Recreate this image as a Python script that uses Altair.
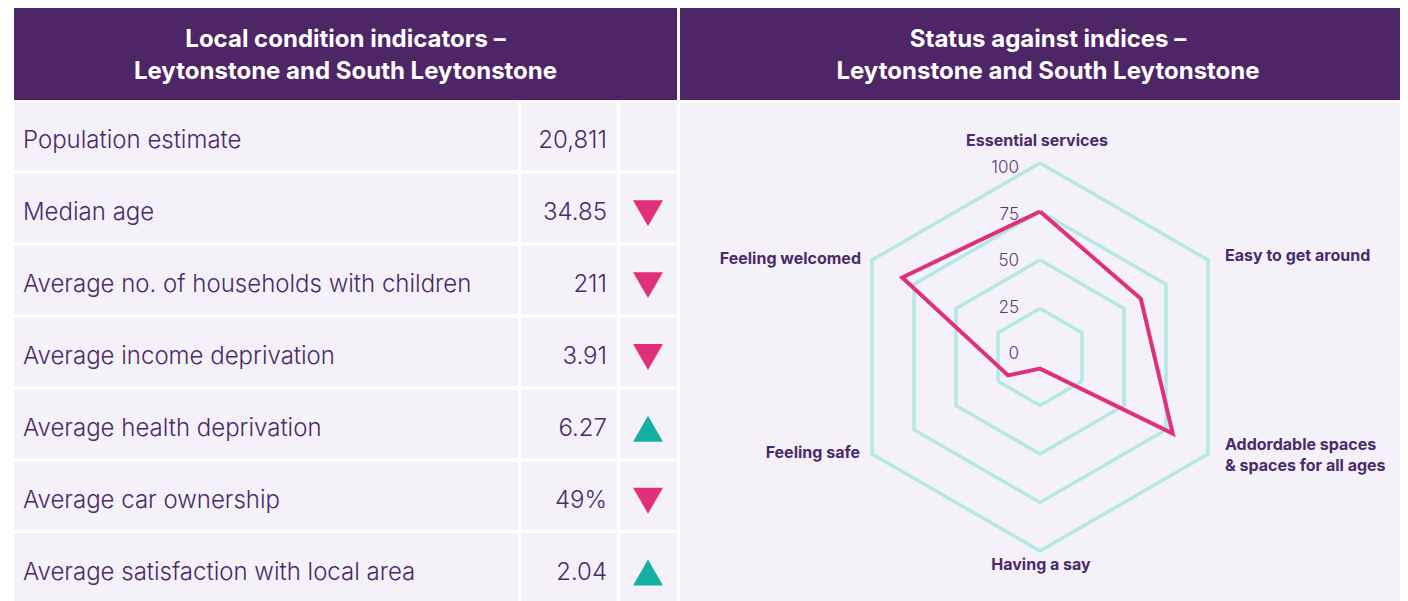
import math
import altair as alt
import pandas as pd

# ---------------- data ----------------
row_labels = [
    "Population estimate",
    "Median age",
    "Average no. of households with children",
    "Average income deprivation",
    "Average health deprivation",
    "Average car ownership",
    "Average satisfaction with local area",
]
row_values = ["20,811", "34.85", "211", "3.91", "6.27", "49%", "2.04"]
row_trend = ["none", "down", "down", "down", "up", "down", "up"]

left_title = "Local condition indicators –\nLeytonstone and South Leytonstone"
right_title = "Status against indices –\nLeytonstone and South Leytonstone"

radar_axes = [
    "Essential services",
    "Easy to get around",
    "Addordable spaces\n& spaces for all ages",
    "Having a say",
    "Feeling safe",
    "Feeling welcomed",
]
radar_scores = [75, 60, 79, 6, 19, 82]
ring_levels = [25, 50, 75, 100]
tick_values = [0, 25, 50, 75, 100]

# ---------------- layout (page pixel coordinates) ----------------
W, H = 1392, 593
X0, Y0 = 8, 8
PURPLE = "#4e2566"
TEXT = "#4a2a6a"
CELL = "#f4f2f8"
TEAL_GRID = "#b4e8e3"
PINK = "#e0307c"
TEAL = "#13b0a2"
FONT = "Inter"

left_x0, left_x1 = 14, 677
right_x0, right_x1 = 680, 1420
head_y0, head_y1 = 0, 100
table_top, row_pitch, row_gap = 102, 71.85, 3
col_edges = [(14, 518), (521, 617), (620, 677)]

cx, cy, R = 1040, 357, 194

X = lambda f="x": alt.X(f"{f}:Q", scale=alt.Scale(domain=[X0, X0 + W], nice=False, zero=False), axis=None)
Y = lambda f="y": alt.Y(f"{f}:Q", scale=alt.Scale(domain=[Y0 + H, Y0], nice=False, zero=False), axis=None)

# backgrounds
bg_df = pd.DataFrame([
    dict(x=left_x0, x2=left_x1, y=head_y0, y2=head_y1, c=PURPLE),
    dict(x=right_x0, x2=right_x1, y=head_y0, y2=head_y1, c=PURPLE),
    dict(x=right_x0, x2=right_x1, y=103, y2=620, c=CELL),
])
for i in range(len(row_labels)):
    top = table_top + i * row_pitch
    for (a, b) in col_edges:
        bg_df.loc[len(bg_df)] = dict(x=a, x2=b, y=top, y2=top + row_pitch - row_gap, c=CELL)

bg = alt.Chart(bg_df).mark_rect().encode(
    x=X(), x2="x2:Q", y=Y(), y2="y2:Q",
    color=alt.Color("c:N", scale=None),
)

# header titles (first line position; second line follows lineHeight)
head_df = pd.DataFrame([
    dict(x=(left_x0 + left_x1) / 2, y=40, t=left_title),
    dict(x=1048, y=40, t=right_title),
])
heads = alt.Chart(head_df).mark_text(
    font=FONT, fontSize=24, fontWeight="bold", color="white",
    lineBreak="\n", lineHeight=32, align="center", baseline="middle",
).encode(x=X(), y=Y(), text="t:N")

# table rows
rows_df = pd.DataFrame(dict(label=row_labels, value=row_values, trend=row_trend))
rows_df["y"] = [table_top + i * row_pitch + (row_pitch - row_gap) / 2 + 5 for i in range(len(row_labels))]
rows_df["xl"] = 23
rows_df["xv"] = 607
rows_df["xt"] = 648

labels = alt.Chart(rows_df).mark_text(
    font=FONT, fontSize=24, fontWeight=300, color=TEXT, align="left", baseline="middle",
).encode(x=X("xl"), y=Y(), text="label:N")

values = alt.Chart(rows_df).mark_text(
    font=FONT, fontSize=24, fontWeight=300, color=TEXT, align="right", baseline="middle",
).encode(x=X("xv"), y=Y(), text="value:N")

tri = alt.Chart(rows_df).transform_filter("datum.trend != 'none'").mark_point(
    filled=True, size=900, opacity=1, strokeWidth=0,
).encode(
    x=X("xt"), y=Y(),
    shape=alt.Shape("trend:N", scale=alt.Scale(domain=["up", "down"], range=["triangle-up", "triangle-down"]), legend=None),
    color=alt.Color("trend:N", scale=alt.Scale(domain=["up", "down"], range=[TEAL, PINK]), legend=None),
)

# radar
def pt(val, k):
    a = math.radians(60 * k)
    r = val / 100 * R
    return cx + r * math.sin(a), cy - r * math.cos(a)

ring_rows = []
for lv in ring_levels:
    for k in range(7):
        x, y = pt(lv, k % 6)
        ring_rows.append(dict(level=lv, k=k, x=x, y=y))
rings = alt.Chart(pd.DataFrame(ring_rows)).mark_line(
    color=TEAL_GRID, strokeWidth=3.5, strokeJoin="miter",
).encode(x=X(), y=Y(), detail="level:N", order="k:Q")

score_rows = []
for k in range(7):
    x, y = pt(radar_scores[k % 6], k % 6)
    score_rows.append(dict(k=k, x=x, y=y))
score = alt.Chart(pd.DataFrame(score_rows)).mark_line(
    color=PINK, strokeWidth=4, strokeJoin="miter",
).encode(x=X(), y=Y(), order="k:Q")

tick_df = pd.DataFrame(dict(v=tick_values))
tick_df["t"] = tick_df["v"].astype(str)
tick_df["x"] = cx - 21
tick_df["y"] = [354 - v / 100 * 186 for v in tick_values]
ticks = alt.Chart(tick_df).mark_text(
    font=FONT, fontSize=17, fontWeight=300, color="#5a3b7a", align="right", baseline="middle",
).encode(x=X(), y=Y(), text="t:N")

# axis labels placed around the outer ring vertices (first line position)
label_offsets = [(-3, -22, "center"), (17, -4, "left"), (17, -9, "left"),
                 (1, 14, "center"), (-12, -1, "right"), (-11, -1, "right")]
ax_rows = []
for k, name in enumerate(radar_axes):
    vx, vy = pt(100, k)
    dx, dy, al = label_offsets[k]
    ax_rows.append(dict(t=name, x=vx + dx, y=vy + dy, al=al))
ax_df = pd.DataFrame(ax_rows)
ax_layers = []
for al in ["left", "center", "right"]:
    sub = ax_df[ax_df["al"] == al]
    ax_layers.append(alt.Chart(sub).mark_text(
        font=FONT, fontSize=16, fontWeight="bold", color=TEXT, align=al, baseline="middle",
        lineBreak="\n", lineHeight=21,
    ).encode(x=X(), y=Y(), text="t:N"))

chart = alt.layer(bg, heads, labels, values, tri, rings, score, ticks, *ax_layers).properties(
    width=W, height=H, padding=0, autosize=alt.AutoSizeParams(type="none"), background="white",
).configure_view(stroke=None)

chart.save("out.html", embed_options={"renderer": "svg", "actions": False})
